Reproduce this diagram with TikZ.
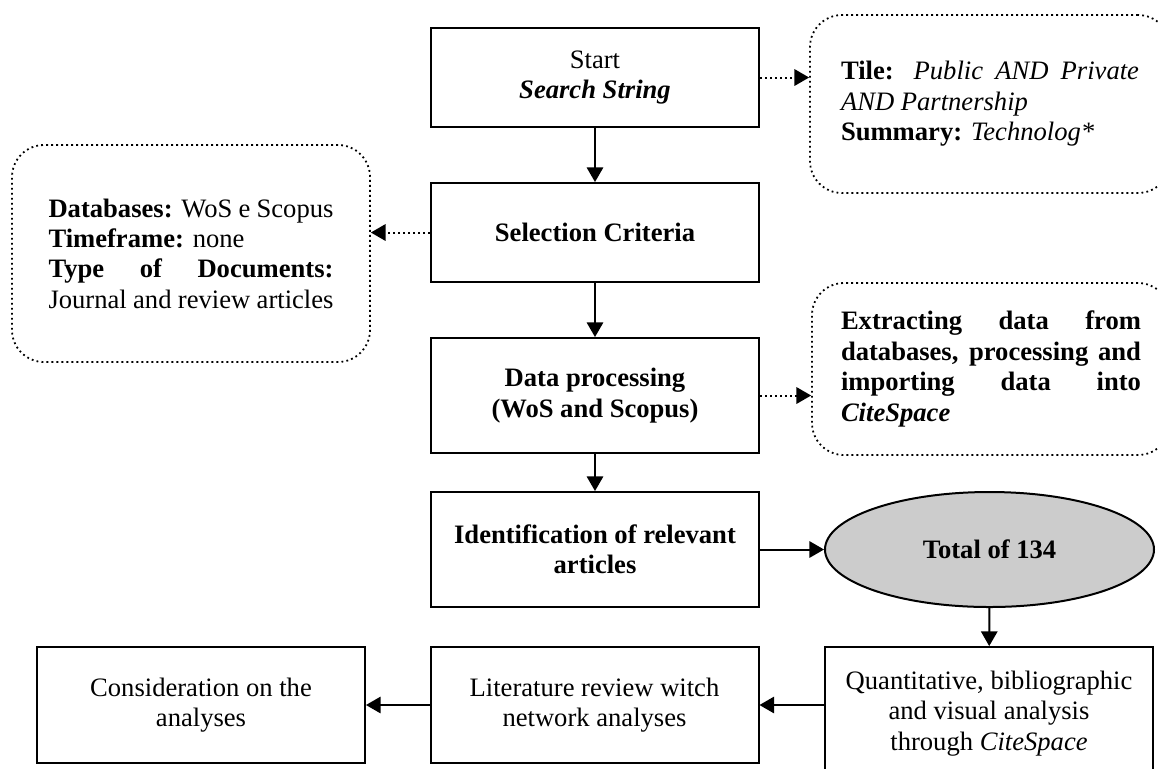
\documentclass[tikz,border=0pt]{standalone}
\usepackage{fontspec}
\setmainfont{Liberation Serif}
\usetikzlibrary{shapes,arrows}
\hyphenpenalty=10000
\exhyphenpenalty=10000
\begin{document}
\begin{tikzpicture}[
        x=0.5pt, y=-0.5pt,
        every node/.style={font=\fontsize{13.3}{15.2}\selectfont},
        ]
        \tikzstyle{procbox} = [draw, line width=1pt, minimum width=164pt, align=center, inner sep=2pt];
        \tikzstyle{notebox} = [draw, line width=0.9pt, dash pattern=on 0.9pt off 1.6pt, rounded corners=16pt, align=justify, inner sep=0pt];
        \tikzstyle{flow} = [-triangle 60, line width=1pt];
        \tikzstyle{link} = [-triangle 60, line width=1pt, dash pattern=on 0.9pt off 1.6pt];
        \useasboundingbox (0,0) rectangle (1158,768);
        \node [procbox, minimum height=49.5pt] (start) at (595,77.5) {Start\\\textbf{\textit{Search String}}};
        \node [procbox, minimum height=49.5pt] (select) at (595,232.5) {\textbf{Selection Criteria}};
        \node [procbox, minimum height=57.5pt] (data) at (595,395.5) {\textbf{Data processing}\\\textbf{(WoS and Scopus)}};
        \node [procbox, minimum height=57.5pt] (ident) at (595,549.5) {\textbf{Identification of relevant}\\\textbf{articles}};
        \node [draw, ellipse, line width=1pt, fill=gray!40, minimum width=164.5pt, minimum height=57.5pt] (total) at (989.5,549.5) {\textbf{Total of 134}};
        \node [procbox, minimum height=66.5pt] (quant) at (989,713.5) {Quantitative, bibliographic\\and visual analysis\\through \textit{CiteSpace}};
        \node [procbox, minimum height=58pt] (lit) at (594.5,705) {Literature review witch\\network analyses};
        \node [procbox, minimum height=58pt] (consid) at (201,705) {Consideration on the\\analyses};
        \node [notebox, minimum width=180pt, minimum height=89pt, text width=149pt] (tilebox) at (990,104)
            {\textbf{Tile:} \textit{Public AND Private AND Partnership}\\\textbf{Summary:} \textit{Technolog*}};
        \node [notebox, minimum width=179pt, minimum height=108.5pt, text width=142.5pt] (dbbox) at (191,253.5)
            {\textbf{Databases:} WoS e Scopus\\\textbf{Timeframe:} none\\\textbf{Type of Documents:} Journal and review articles};
        \node [notebox, minimum width=179pt, minimum height=86pt, text width=150pt] (extbox) at (991,369)
            {\textbf{Extracting data from\linebreak databases, processing and\linebreak importing data into\linebreak \textit{CiteSpace}}};
        \draw [flow] (start) -- (select);
        \draw [flow] (select) -- (data);
        \draw [flow] (data) -- (ident);
        \draw [flow] (ident) -- (total);
        \draw [flow] (total) -- (quant);
        \draw [flow] (quant.west |- lit.east) -- (lit.east);
        \draw [flow] (lit) -- (consid);
        \draw [link] (start.east) -- (start.east -| tilebox.west);
        \draw [link] (select.west) -- (select.west -| dbbox.east);
        \draw [link] (data.east) -- (data.east -| extbox.west);
    \end{tikzpicture}
\end{document}
